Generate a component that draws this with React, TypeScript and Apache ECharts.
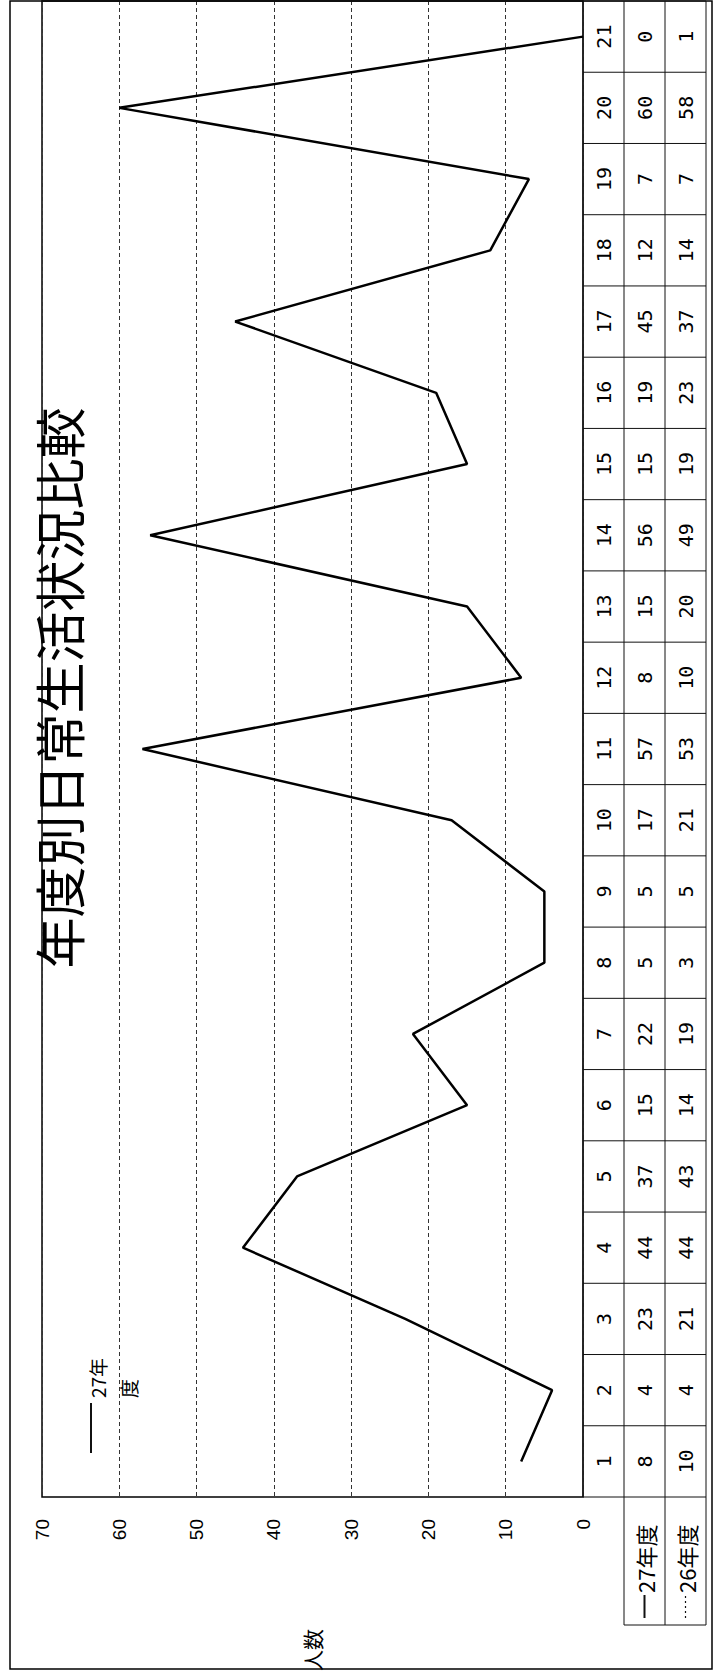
import React, { useEffect, useRef } from "react";
import * as echarts from "echarts";

const categories = ["1", "2", "3", "4", "5", "6", "7", "8", "9", "10", "11", "12", "13", "14", "15", "16", "17", "18", "19", "20", "21"];
const values27 = [8, 4, 23, 44, 37, 15, 22, 5, 5, 17, 57, 8, 15, 56, 15, 19, 45, 12, 7, 60, 0];
const values26 = [10, 4, 21, 44, 43, 14, 19, 3, 5, 21, 53, 10, 20, 49, 19, 23, 37, 14, 7, 58, 1];
const seriesNames = ["27年度", "26年度"];
const axisMin = 0;
const axisMax = 70;
const axisInterval = 10;
const titleText = "年度別日常生活状況比較";
const axisName = "人数";
const legendLines = "27年\n度";

const SANS = "'Liberation Sans', 'Noto Sans CJK JP', sans-serif";
const CJK = "'Noto Sans CJK JP', sans-serif";
const MONO = "'DejaVu Sans Mono', 'Noto Sans CJK JP', monospace";
const ROT = Math.PI / 2;

export default function App() {
  const ref = useRef<HTMLDivElement>(null);
  useEffect(() => {
    document.body.style.margin = "0";
    const chart = echarts.init(ref.current!, null, { renderer: "svg" });
    chart.setOption({
      animation: false,
      backgroundColor: "#fff",
      grid: { left: 42, right: 131, top: 1, bottom: 175, show: true, borderColor: "#000", borderWidth: 1.5 },
      xAxis: {
        type: "value",
        inverse: true,
        min: axisMin,
        max: axisMax,
        interval: axisInterval,
        axisLine: { show: false },
        axisTick: { show: false },
        splitLine: { show: true, lineStyle: { color: "#333", type: [4, 3], width: 1 } },
        axisLabel: { rotate: 90, margin: 22, fontSize: 19, color: "#000", fontFamily: SANS },
      },
      yAxis: {
        type: "category",
        data: categories,
        axisLine: { show: false },
        axisTick: { show: false },
        axisLabel: { show: false },
        splitLine: { show: false },
      },
      series: [
        {
          type: "line",
          name: seriesNames[0],
          data: values27.map((v, i) => [v, i]),
          symbol: "none",
          lineStyle: { color: "#000", width: 2.5 },
        },
      ],
    });

    const y0 = chart.convertToPixel({ yAxisIndex: 0 }, 0) as number;
    const y1 = chart.convertToPixel({ yAxisIndex: 0 }, 1) as number;
    const band = Math.abs(y0 - y1);
    const xZero = chart.convertToPixel({ xAxisIndex: 0 }, 0) as number;
    const colW = 41;
    const cols = [xZero, xZero + colW, xZero + 2 * colW, xZero + 3 * colW];
    const plotTop = (chart.convertToPixel({ yAxisIndex: 0 }, categories.length - 1) as number) - band / 2;
    const plotBottom = y0 + band / 2;
    const headerBottom = plotBottom + 128;

    const g: any[] = [];
    const line = (x1: number, ya: number, x2: number, yb: number, w = 1, dash?: number[]) =>
      g.push({ type: "line", silent: true, shape: { x1, y1: ya, x2, y2: yb }, style: { stroke: "#111", lineWidth: w, lineDash: dash } });
    const text = (x: number, y: number, t: string, size: number, family: string, align = "center", valign = "middle", extra: any = {}) =>
      g.push({
        type: "text",
        silent: true,
        x,
        y,
        rotation: ROT,
        style: { text: t, fontSize: size, fontFamily: family, fill: "#000", align, verticalAlign: valign, textAlign: align, textVerticalAlign: valign, ...extra },
      });

    // outer border
    g.push({ type: "rect", silent: true, shape: { x: 10, y: 1, width: 702, height: 1668 }, style: { fill: "none", stroke: "#000", lineWidth: 1.5 } });

    // table borders
    line(cols[0], plotTop, cols[0], plotBottom);
    line(cols[1], plotTop, cols[1], headerBottom);
    line(cols[2], plotTop, cols[2], headerBottom);
    line(cols[3], plotTop, cols[3], headerBottom);
    line(cols[0], plotTop, cols[3], plotTop);
    line(cols[1], headerBottom, cols[3], headerBottom);

    categories.forEach((c, i) => {
      const cy = chart.convertToPixel({ yAxisIndex: 0 }, i) as number;
      line(cols[0], cy + band / 2, cols[3], cy + band / 2);
      text((cols[0] + cols[1]) / 2, cy, c, 20, MONO);
      text((cols[1] + cols[2]) / 2, cy, String(values27[i]), 20, MONO);
      text((cols[2] + cols[3]) / 2, cy, String(values26[i]), 20, MONO);
    });

    // header cells
    const hx27 = (cols[1] + cols[2]) / 2;
    const hx26 = (cols[2] + cols[3]) / 2;
    line(hx27, headerBottom - 7, hx27, headerBottom - 30, 2);
    line(hx26, headerBottom - 7, hx26, headerBottom - 30, 1.2, [2, 3]);
    text(hx27, headerBottom - 32, seriesNames[0], 22, CJK, "left", "middle");
    text(hx26, headerBottom - 32, seriesNames[1], 22, CJK, "left", "middle");

    // axis name
    text(312, 1650, axisName, 21, CJK, "center", "middle", { lineHeight: 24 });

    // title
    text(58, 688, titleText, 51, CJK, "center", "middle");

    // legend
    line(91, 1453, 91, 1403, 2);
    text(82, 1398, legendLines, 19, CJK, "left", "top", { lineHeight: 31 });

    chart.setOption({ graphic: { elements: g } });

    return () => chart.dispose();
  }, []);
  return <div ref={ref} style={{ position: "absolute", left: 0, top: 0, width: 714, height: 1672 }} />;
}
